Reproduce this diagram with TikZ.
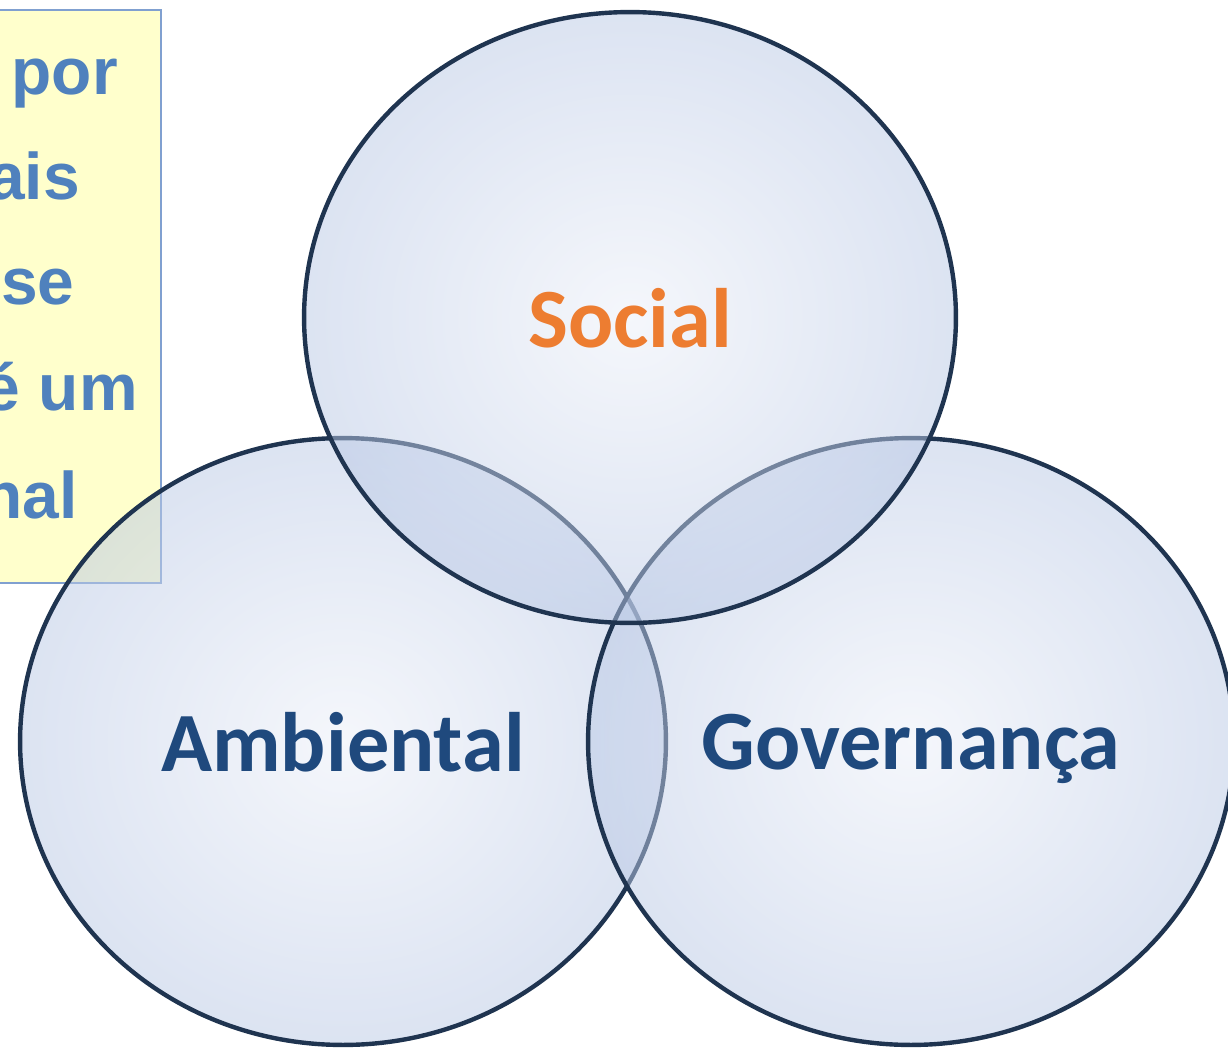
\documentclass[tikz,border=0pt]{standalone}
\usepackage{fontspec}
\newfontfamily\pillarfont{Carlito}
\newfontfamily\notefont{Liberation Sans}
\usetikzlibrary{shapes.geometric,positioning}

\definecolor{pillarline}{RGB}{31,52,80}
\definecolor{pillarin}{RGB}{235,239,248}
\definecolor{pillarout}{RGB}{185,200,229}
\definecolor{socialorange}{RGB}{237,125,49}
\definecolor{pillarblue}{RGB}{31,73,125}
\definecolor{noteyellow}{RGB}{255,255,204}
\definecolor{noteline}{RGB}{128,160,208}
\definecolor{noteblue}{RGB}{79,129,189}

\begin{document}
\begin{tikzpicture}
  [x=0.02cm,y=-0.02cm,
   pillar/.style={ellipse,draw=pillarline,line width=0.088cm,
                  shading=radial,inner color=pillarin,outer color=pillarout,
                  fill opacity=0.5,text opacity=1,text depth=0pt,
                  inner sep=0pt,font=\pillarfont\bfseries\fontsize{48}{50}\selectfont},
   notebox/.style={rectangle,draw=noteline,fill=noteyellow,line width=0.03cm,
                   inner sep=0pt,minimum width=4.02cm,minimum height=11.46cm},
   notetext/.style={anchor=base east,inner sep=0pt,text=noteblue,
                    font=\notefont\bfseries\fontsize{37.5}{40}\selectfont}]
  \useasboundingbox (0,0) rectangle (1228,1049);
  \clip (0,0) rectangle (1228,1049);
  % note box, cut at the left edge
  \node[notebox] (note) at (60.5,296.5) {};
  \node[notetext] (line1) at (118,94)  {por};
  \node[notetext] (line2) at (80,199)  {ais};
  \node[notetext] (line3) at (75,304)  {se};
  \node[notetext] (line4) at (138,410) {é um};
  \node[notetext] (line5) at (78,518)  {nal};
  % the three pillars
  \node[pillar,minimum width=12.92cm,minimum height=12.14cm,text=pillarblue]
        (ambiental) at (343,741.5) {Ambiental};
  \node[pillar,minimum width=12.92cm,minimum height=12.14cm,text=pillarblue]
        (governanca) at (911,741.5) {Governança};
  \node[pillar,minimum width=13.04cm,minimum height=12.22cm,text=socialorange]
        (social) at (630,317.5) {Social};
\end{tikzpicture}
\end{document}
